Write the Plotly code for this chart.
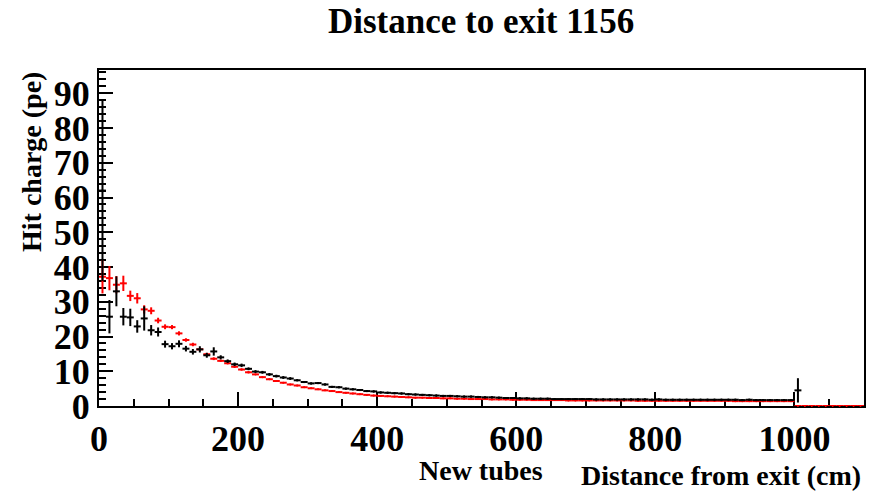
import numpy as np
import plotly.graph_objects as go

# ---- data (10 cm bins) ----
bin_width = 10
black_centers = np.arange(5, 1010, 10)     # 0 .. 1010 cm
red_centers = np.arange(5, 1100, 10)       # 0 .. 1100 cm

black_vals = [
    62.0, 25.7, 33.0, 25.7, 25.5, 22.9, 25.2, 21.8, 21.3, 17.8,
    17.2, 17.9, 16.5, 15.6, 16.3, 14.6, 15.7, 14.0, 12.9, 12.0,
    11.7, 10.7, 9.9, 9.7, 9.1, 8.6, 8.2, 7.9, 7.4, 6.9,
    6.5, 6.6, 6.2, 5.5, 5.4, 5.0, 4.8, 4.6, 4.3, 4.2,
    3.9, 3.8, 3.7, 3.6, 3.4, 3.3, 3.2, 3.1, 3.0, 2.9,
    2.9, 2.8, 2.7, 2.7, 2.6, 2.5, 2.5, 2.4, 2.3, 2.3,
    2.2, 2.2, 2.1, 2.1, 2.1, 2.0, 2.0, 2.0, 2.0, 2.0,
    2.0, 1.9, 1.9, 1.9, 1.9, 1.9, 1.9, 1.9, 1.9, 1.8,
    1.9, 1.8, 1.8, 1.8, 1.8, 1.8, 1.8, 1.8, 1.8, 1.8,
    1.8, 1.8, 1.7, 1.8, 1.7, 1.7, 1.7, 1.7, 1.7, 1.7,
    4.5,
]
black_errs = [
    26.0, 4.8, 4.3, 2.5, 2.5, 1.8, 3.5, 1.5, 1.3, 1.0,
    0.9, 1.0, 0.8, 0.8, 0.9, 0.7, 1.2, 0.6, 0.5, 0.5,
    0.5, 0.4, 0.4, 0.4, 0.4, 0.4, 0.4, 0.4, 0.3, 0.3,
    0.3, 0.3, 0.3, 0.3, 0.3, 0.3, 0.3, 0.3, 0.3, 0.3,
    0.3, 0.3, 0.3, 0.3, 0.3, 0.3, 0.3, 0.3, 0.3, 0.3,
    0.3, 0.3, 0.3, 0.3, 0.3, 0.3, 0.3, 0.3, 0.3, 0.3,
    0.3, 0.3, 0.3, 0.3, 0.3, 0.3, 0.3, 0.3, 0.3, 0.3,
    0.3, 0.3, 0.3, 0.3, 0.3, 0.3, 0.3, 0.3, 0.3, 0.3,
    0.3, 0.3, 0.3, 0.3, 0.3, 0.3, 0.3, 0.3, 0.3, 0.3,
    0.3, 0.3, 0.3, 0.3, 0.3, 0.3, 0.3, 0.3, 0.3, 0.3,
    3.5,
]

red_vals = [
    37.2, 36.8, 34.9, 35.3, 31.7, 31.0, 27.8, 27.4, 24.6, 22.8,
    22.7, 20.9, 19.0, 17.7, 16.3, 14.9, 13.6, 13.0, 12.3, 11.3,
    10.5, 9.7, 9.1, 8.3, 7.7, 7.2, 6.7, 6.2, 5.9, 5.4,
    5.1, 4.8, 4.5, 4.3, 4.0, 3.8, 3.6, 3.4, 3.2, 3.0,
    2.9, 2.8, 2.7, 2.6, 2.5, 2.4, 2.4, 2.3, 2.3, 2.2,
    2.2, 2.1, 2.1, 2.0, 2.0, 2.0, 1.9, 1.9, 1.9, 1.8,
    1.8, 1.8, 1.7, 1.7, 1.7, 1.7, 1.7, 1.6, 1.6, 1.6,
    1.6, 1.6, 1.6, 1.6, 1.6, 1.6, 1.6, 1.5, 1.5, 1.5,
    1.5, 1.5, 1.5, 1.5, 1.5, 1.5, 1.5, 1.5, 1.5, 1.5,
    1.5, 1.4, 1.4, 1.4, 1.4, 1.4, 1.4, 1.4, 1.4, 1.4,
    0.0, 0.0, 0.0, 0.0, 0.0, 0.0, 0.0, 0.0, 0.0, 0.0,
]
red_errs = [
    4.8, 3.5, 2.5, 2.2, 1.5, 1.5, 1.2, 1.0, 0.8, 0.7,
    0.6, 0.6, 0.5, 0.5, 0.4, 0.4, 0.4, 0.3, 0.3, 0.3,
    0.3, 0.3, 0.2, 0.2, 0.2, 0.2, 0.2, 0.2, 0.2, 0.2,
    0.2, 0.2, 0.2, 0.2, 0.2, 0.2, 0.2, 0.2, 0.2, 0.2,
    0.2, 0.2, 0.2, 0.2, 0.2, 0.2, 0.2, 0.2, 0.2, 0.2,
    0.2, 0.2, 0.2, 0.2, 0.2, 0.2, 0.2, 0.2, 0.2, 0.2,
    0.2, 0.2, 0.2, 0.2, 0.2, 0.2, 0.2, 0.2, 0.2, 0.2,
    0.2, 0.2, 0.2, 0.2, 0.2, 0.2, 0.2, 0.2, 0.2, 0.2,
    0.2, 0.2, 0.2, 0.2, 0.2, 0.2, 0.2, 0.2, 0.2, 0.2,
    0.2, 0.2, 0.2, 0.2, 0.2, 0.2, 0.2, 0.2, 0.2, 0.2,
    0.0, 0.0, 0.0, 0.0, 0.0, 0.0, 0.0, 0.0, 0.0, 0.0,
]

title_text = "Distance to exit 1156"
y_title = "Hit charge (pe)"
x_title = "Distance from exit (cm)"
sub_label = "New tubes"

FONT = "Liberation Serif"


def hist_trace(xc, vals, errs, color):
    return go.Scatter(
        x=xc, y=vals, mode="markers",
        marker=dict(color=color, size=2),
        error_x=dict(type="constant", value=bin_width / 2, color=color,
                     thickness=2, width=0),
        error_y=dict(type="data", array=errs, color=color,
                     thickness=2, width=0),
        showlegend=False, hoverinfo="skip", cliponaxis=False,
    )


fig = go.Figure()
fig.add_trace(hist_trace(red_centers, red_vals, red_errs, "#ff0000"))
fig.add_trace(hist_trace(black_centers, black_vals, black_errs, "#000000"))

# the page body adds an 8px offset; lay out in screen coords minus 8
OFF = 8
W, H = 878 - OFF, 492 - OFF
L, T = 99 - OFF, 70 - OFF
Rpx, Bpx = 864 - OFF, 406 - OFF
R, B = W - Rpx, H - Bpx
pw, ph = Rpx - L, Bpx - T


def px(xs):
    return (xs - OFF - L) / pw


def py(ys):
    return (Bpx - (ys - OFF)) / ph


fig.update_layout(
    width=W, height=H, autosize=False,
    margin=dict(l=L, r=R, t=T, b=B, autoexpand=False),
    paper_bgcolor="white", plot_bgcolor="white",
    xaxis=dict(
        range=[0, 1100], showgrid=False, zeroline=False, automargin=False,
        showline=True, mirror=True, linecolor="black", linewidth=2,
        layer="below traces",
        ticks="inside", ticklen=14, tickwidth=1.5, tickcolor="black",
        dtick=200, tick0=0,
        tickfont=dict(family=FONT, size=36, color="black", weight="bold"),
        minor=dict(ticks="inside", dtick=50, ticklen=7, tickwidth=1.5,
                   tickcolor="black", showgrid=False),
    ),
    yaxis=dict(
        range=[0, 96.7], showgrid=False, zeroline=False, automargin=False,
        showline=True, mirror=True, linecolor="black", linewidth=2,
        layer="below traces",
        ticks="inside", ticklen=14, tickwidth=1.5, tickcolor="black",
        dtick=10, tick0=0,
        tickfont=dict(family=FONT, size=36, color="black", weight="bold"),
        minor=dict(ticks="inside", dtick=2, ticklen=7, tickwidth=1.5,
                   tickcolor="black", showgrid=False),
    ),
    annotations=[
        dict(text=title_text, xref="paper", yref="paper",
             x=px(481), y=py(21), xanchor="center", yanchor="middle",
             showarrow=False,
             font=dict(family=FONT, size=35, color="black", weight="bold")),
        dict(text=y_title, xref="paper", yref="paper",
             x=px(31), y=py(162), xanchor="center", yanchor="middle",
             textangle=-90, showarrow=False,
             font=dict(family=FONT, size=28, color="black", weight="bold")),
        dict(text=sub_label, xref="paper", yref="paper",
             x=px(481), y=py(470), xanchor="center", yanchor="middle",
             showarrow=False,
             font=dict(family=FONT, size=28, color="black", weight="bold")),
        dict(text=x_title, xref="paper", yref="paper",
             x=px(863), y=py(475), xanchor="right", yanchor="middle",
             showarrow=False,
             font=dict(family=FONT, size=28, color="black", weight="bold")),
    ],
)

fig.write_html("out.html")
